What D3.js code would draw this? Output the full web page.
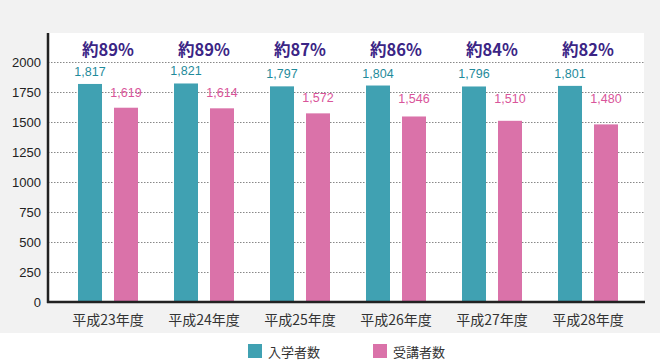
<!DOCTYPE html>
<html>
<head>
<meta charset="utf-8">
<script src="https://cdn.jsdelivr.net/npm/d3@7"></script>
<style>
  body { margin: 0; background: #fff; }
</style>
</head>
<body>
<div id="chart"></div>
<script>
const years = ['平成23年度', '平成24年度', '平成25年度', '平成26年度', '平成27年度', '平成28年度'];
const enrolled = [1817, 1821, 1797, 1804, 1796, 1801];
const attended = [1619, 1614, 1572, 1546, 1510, 1480];
const rates = ['約89%', '約89%', '約87%', '約86%', '約84%', '約82%'];
const seriesNames = ['入学者数', '受講者数'];
const yTicks = [0, 250, 500, 750, 1000, 1250, 1500, 1750, 2000];

const colors = ['#40a1b2', '#da72a9'];
const textColors = ['#1f8b9b', '#d9559a'];
const latin = "'Liberation Sans', Arial, sans-serif";
const cjk = "'Noto Sans CJK JP', sans-serif";

const W = 660, H = 360;
const plot = { left: 48, right: 644, top: 33, bottom: 302 };

const svg = d3.select('#chart').append('svg')
  .attr('width', W)
  .attr('height', H);

// backgrounds
svg.append('rect').attr('x', 0).attr('y', 0).attr('width', W).attr('height', 333).attr('fill', '#f2f2f2');
svg.append('rect')
  .attr('x', plot.left).attr('y', plot.top)
  .attr('width', plot.right - plot.left).attr('height', plot.bottom - plot.top)
  .attr('fill', '#fff');

const x = d3.scaleBand().domain(years).range([60, 636]);
const y = d3.scaleLinear().domain([0, 2000]).range([plot.bottom, 62]);
const barW = 24, gap = 12;

// grid
svg.append('g').selectAll('line')
  .data(yTicks.filter((d) => d > 0))
  .enter().append('line')
  .attr('x1', plot.left).attr('x2', plot.right)
  .attr('y1', (d) => y(d) + 0.5).attr('y2', (d) => y(d) + 0.5)
  .attr('stroke', '#888')
  .attr('stroke-dasharray', '1.5,1.5');

// y axis labels
svg.append('g')
  .attr('transform', `translate(${plot.left},0)`)
  .call(d3.axisLeft(y).tickValues(yTicks).tickFormat(d3.format('d')).tickSize(0).tickPadding(7))
  .call((g) => g.select('.domain').remove())
  .selectAll('text')
  .attr('font-size', '13px')
  .attr('fill', '#222')
  .style('font-family', latin);

// bars
const groups = svg.append('g').selectAll('g')
  .data(years)
  .enter().append('g')
  .attr('transform', (d) => `translate(${x(d) + x.bandwidth() / 2},0)`);

[enrolled, attended].forEach((vals, s) => {
  const off = s === 0 ? -(barW + gap / 2) : gap / 2;
  groups.append('rect')
    .attr('x', off)
    .attr('y', (d, i) => y(vals[i]))
    .attr('width', barW)
    .attr('height', (d, i) => y(0) - y(vals[i]))
    .attr('fill', colors[s]);
  groups.append('text')
    .attr('x', off + barW / 2)
    .attr('y', (d, i) => (s === 0 ? y(vals[i]) - 12 : Math.min(y(vals[i]) - 15, 99)))
    .attr('text-anchor', 'middle')
    .attr('dominant-baseline', 'central')
    .attr('font-size', '12.5px')
    .attr('fill', textColors[s])
    .style('font-family', latin)
    .text((d, i) => d3.format(',')(vals[i]));
});

// rate labels
groups.append('text')
  .attr('x', 0)
  .attr('y', 49)
  .attr('text-anchor', 'middle')
  .attr('dominant-baseline', 'central')
  .attr('font-size', '16.5px')
  .attr('font-weight', 'bold')
  .attr('fill', '#3b2585')
  .style('font-family', cjk)
  .text((d, i) => rates[i]);

// axes lines
svg.append('line')
  .attr('x1', plot.left).attr('x2', plot.left)
  .attr('y1', plot.top).attr('y2', plot.bottom + 1)
  .attr('stroke', '#222').attr('stroke-width', 2.5);
svg.append('line')
  .attr('x1', plot.left - 1).attr('x2', plot.right + 1)
  .attr('y1', plot.bottom).attr('y2', plot.bottom)
  .attr('stroke', '#222').attr('stroke-width', 2.5);

// x labels
svg.append('g').selectAll('text')
  .data(years)
  .enter().append('text')
  .attr('x', (d) => x(d) + x.bandwidth() / 2)
  .attr('y', 319)
  .attr('text-anchor', 'middle')
  .attr('dominant-baseline', 'central')
  .attr('font-size', '14px')
  .attr('fill', '#333')
  .style('font-family', cjk)
  .text((d) => d);

// legend
const legend = svg.append('g').selectAll('g')
  .data(seriesNames)
  .enter().append('g')
  .attr('transform', (d, i) => `translate(${248 + i * 125},344)`);
legend.append('rect')
  .attr('width', 14).attr('height', 14)
  .attr('fill', (d, i) => colors[i]);
legend.append('text')
  .attr('x', 20).attr('y', 7)
  .attr('dominant-baseline', 'central')
  .attr('font-size', '13px')
  .attr('fill', '#333')
  .style('font-family', cjk)
  .text((d) => d);
</script>
</body>
</html>
